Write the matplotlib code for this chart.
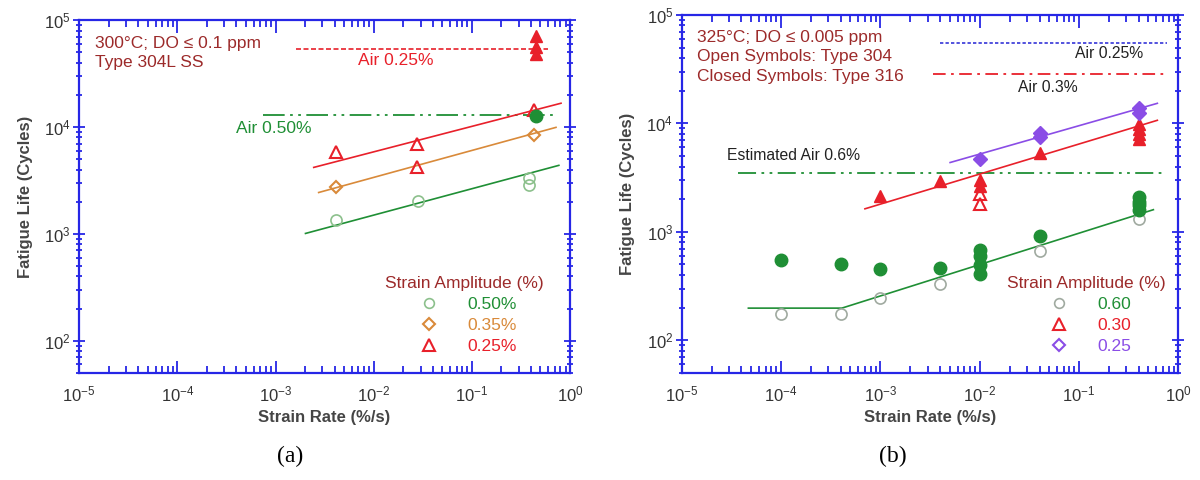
import matplotlib
matplotlib.use('Agg')
import matplotlib.pyplot as plt
from matplotlib.lines import Line2D
from matplotlib.ticker import LogLocator, NullFormatter

plt.rcParams['font.family'] = ['Liberation Sans', 'DejaVu Sans']
plt.rcParams['axes.unicode_minus'] = False

AXIS_BLUE = '#2626e6'
TEXT_RED = '#9c2a2a'
GREEN = '#1f8f35'
GREEN_OPEN_A = '#8cc08c'
GREEN_OPEN_B = '#a0aaa0'
RED = '#e8202a'
ORANGE = '#d98a3a'
PURPLE = '#8a4de6'
BLUE = '#3535d8'

# ---- panel (a): 300 C, Type 304L SS ----
a_tri_x = [0.0041, 0.0275, 0.0275, 0.43]
a_tri_y = [5800, 6900, 4200, 14300]
a_tri_fill_x = [0.45, 0.45, 0.45]
a_tri_fill_y = [70800, 55800, 48000]
a_dia_x = [0.0041, 0.43]
a_dia_y = [2720, 8350]
a_circ_x = [0.0041, 0.028, 0.38, 0.38]
a_circ_y = [1340, 2050, 3300, 2850]
a_circ_fill_x = [0.45]
a_circ_fill_y = [12600]

a_fit_red_x = [0.00245, 0.81]
a_fit_red_y = [4190, 16700]
a_fit_orange_x = [0.00275, 0.72]
a_fit_orange_y = [2440, 9930]
a_fit_green_x = [0.00202, 0.77]
a_fit_green_y = [1010, 4380]

a_air25_x = [0.0016, 0.6]
a_air25_y = [54300, 54300]
a_air50_x = [0.00075, 0.72]
a_air50_y = [12900, 12900]

# ---- panel (b): 325 C, Types 304 and 316 ----
b_dia_fill_x = [0.01, 0.04, 0.04, 0.4, 0.4]
b_dia_fill_y = [4740, 8070, 7500, 13800, 12400]
b_tri_fill_x = [0.001, 0.004, 0.01, 0.01, 0.04, 0.4, 0.4, 0.4, 0.4]
b_tri_fill_y = [2150, 2970, 3000, 2650, 5380, 9800, 8800, 7900, 7200]
b_tri_x = [0.01, 0.01]
b_tri_y = [2250, 1820]
b_circ_fill_x = [1e-4, 4e-4, 0.001, 0.004, 0.01, 0.01, 0.01, 0.01, 0.04,
                 0.4, 0.4, 0.4, 0.4]
b_circ_fill_y = [551, 506, 450, 464, 680, 600, 490, 410, 918,
                 2100, 1900, 1750, 1600]
b_circ_x = [1e-4, 4e-4, 0.001, 0.004, 0.04, 0.4]
b_circ_y = [174, 174, 245, 330, 667, 1320]

b_fit_purple_x = [0.00504, 0.614]
b_fit_purple_y = [4355, 15300]
b_fit_red_x = [0.0007, 0.614]
b_fit_red_y = [1630, 10670]
b_fit_green_x = [4.7e-5, 4.1e-4, 0.56]
b_fit_green_y = [198, 198, 1600]

b_air25_x = [0.004, 0.77]
b_air25_y = [54700, 54700]
b_air30_x = [0.0034, 0.77]
b_air30_y = [28400, 28400]
b_air60_x = [3.7e-5, 0.71]
b_air60_y = [3520, 3520]

FS = 12.5


def style_axes(ax):
    ax.set_xscale('log')
    ax.set_yscale('log')
    ax.set_xlim(1e-5, 1e0)
    ax.set_ylim(50, 1e5)
    for sp in ax.spines.values():
        sp.set_color(AXIS_BLUE)
        sp.set_linewidth(1.6)
    ax.xaxis.set_major_locator(LogLocator(base=10, numticks=10))
    ax.xaxis.set_minor_locator(LogLocator(base=10, subs=range(2, 10), numticks=20))
    ax.yaxis.set_major_locator(LogLocator(base=10, numticks=10))
    ax.yaxis.set_minor_locator(LogLocator(base=10, subs=range(2, 10), numticks=20))
    ax.xaxis.set_minor_formatter(NullFormatter())
    ax.yaxis.set_minor_formatter(NullFormatter())
    ax.tick_params(axis='x', which='both', direction='in', top=True, bottom=True,
                   color=AXIS_BLUE, width=1.3, labelsize=12, labelcolor='#333333', pad=8)
    ax.tick_params(axis='x', which='major', length=9)
    ax.tick_params(axis='x', which='minor', length=5)
    ax.tick_params(axis='y', which='both', direction='inout', left=True, right=True,
                   color=AXIS_BLUE, width=1.3, labelsize=12, labelcolor='#333333', pad=2)
    ax.tick_params(axis='y', which='major', length=8)
    ax.tick_params(axis='y', which='minor', length=5)
    ax.set_xlabel('Strain Rate (%/s)', fontsize=12, fontweight='bold',
                  color='#454545', labelpad=4)
    ax.set_ylabel('Fatigue Life (Cycles)', fontsize=12, fontweight='bold',
                  color='#454545', labelpad=8)


fig = plt.figure(figsize=(12, 4.8), dpi=100)
ax1 = fig.add_axes([0.066, 0.223, 0.409, 0.735])
ax2 = fig.add_axes([0.568, 0.223, 0.414, 0.746])
style_axes(ax1)
style_axes(ax2)

ms = 9

# panel (a)
ax1.plot(a_air25_x, a_air25_y, color=RED, lw=1.2, dashes=(3, 1.5))
ax1.plot(a_air50_x, a_air50_y, color=GREEN, lw=1.3, dashes=(12, 3, 1.5, 3, 1.5, 3))
ax1.plot(a_fit_red_x, a_fit_red_y, color=RED, lw=1.2)
ax1.plot(a_fit_orange_x, a_fit_orange_y, color=ORANGE, lw=1.2)
ax1.plot(a_fit_green_x, a_fit_green_y, color=GREEN, lw=1.2)
ax1.plot(a_circ_x, a_circ_y, 'o', ms=8, mfc='none', mec=GREEN_OPEN_A, mew=1.2)
ax1.plot(a_dia_x, a_dia_y, 'D', ms=6.5, mfc='none', mec=ORANGE, mew=1.5)
ax1.plot(a_tri_x, a_tri_y, '^', ms=ms, mfc='none', mec=RED, mew=1.5)
ax1.plot(a_tri_fill_x, a_tri_fill_y, '^', ms=ms, color=RED)
ax1.plot(a_circ_fill_x, a_circ_fill_y, 'o', ms=ms, color=GREEN)

ax1.text(0.032, 0.955, '300°C; DO ≤ 0.1 ppm\nType 304L SS', transform=ax1.transAxes,
         fontsize=FS, color=TEXT_RED, va='top', ha='left', linespacing=1.3)
ax1.text(0.0069, 42000, 'Air 0.25%', fontsize=FS, color=RED, va='center')
ax1.text(0.0004, 9700, 'Air 0.50%', fontsize=FS, color=GREEN, va='center')

handles_a = [
    Line2D([], [], ls='none', marker='o', ms=7, mfc='none', mec=GREEN_OPEN_A, mew=1.2),
    Line2D([], [], ls='none', marker='D', ms=6, mfc='none', mec=ORANGE, mew=1.5),
    Line2D([], [], ls='none', marker='^', ms=8, mfc='none', mec=RED, mew=1.5),
]
leg = ax1.legend(handles_a, ['0.50%', '0.35%', '0.25%'], title='Strain Amplitude (%)',
                 loc='lower center', bbox_to_anchor=(0.785, 0.01), frameon=False,
                 fontsize=FS, title_fontsize=FS, handletextpad=1.2, labelspacing=0.33,
                 labelcolor=[GREEN, ORANGE, RED])
leg.get_title().set_color(TEXT_RED)

# panel (b)
ax2.plot(b_air25_x, b_air25_y, color=BLUE, lw=1.2, dashes=(2, 1.3))
ax2.plot(b_air30_x, b_air30_y, color=RED, lw=1.3, dashes=(7, 3, 1.5, 3))
ax2.plot(b_air60_x, b_air60_y, color=GREEN, lw=1.3, dashes=(10, 3, 1.5, 3, 1.5, 3))
ax2.plot(b_fit_purple_x, b_fit_purple_y, color=PURPLE, lw=1.2)
ax2.plot(b_fit_red_x, b_fit_red_y, color=RED, lw=1.2)
ax2.plot(b_fit_green_x, b_fit_green_y, color=GREEN, lw=1.2)
ax2.plot(b_circ_x, b_circ_y, 'o', ms=8, mfc='none', mec=GREEN_OPEN_B, mew=1.2)
ax2.plot(b_tri_x, b_tri_y, '^', ms=ms, mfc='none', mec=RED, mew=1.5)
ax2.plot(b_circ_fill_x, b_circ_fill_y, 'o', ms=ms, color=GREEN)
ax2.plot(b_tri_fill_x, b_tri_fill_y, '^', ms=ms, color=RED)
ax2.plot(b_dia_fill_x, b_dia_fill_y, 'D', ms=7, color=PURPLE)

ax2.text(0.032, 0.957, '325°C; DO ≤ 0.005 ppm\nOpen Symbols: Type 304\nClosed Symbols: Type 316',
         transform=ax2.transAxes, fontsize=FS, color=TEXT_RED, va='top', ha='left',
         linespacing=1.35)
ax2.text(0.0916, 43600, 'Air 0.25%', fontsize=11.3, color='#222222', va='center')
ax2.text(0.0244, 21500, 'Air 0.3%', fontsize=11.3, color='#222222', va='center')
ax2.text(2.84e-5, 5060, 'Estimated Air 0.6%', fontsize=11.3, color='#222222', va='center')

handles_b = [
    Line2D([], [], ls='none', marker='o', ms=7, mfc='none', mec=GREEN_OPEN_B, mew=1.2),
    Line2D([], [], ls='none', marker='^', ms=8, mfc='none', mec=RED, mew=1.5),
    Line2D([], [], ls='none', marker='D', ms=6, mfc='none', mec=PURPLE, mew=1.5),
]
leg = ax2.legend(handles_b, ['0.60', '0.30', '0.25'], title='Strain Amplitude (%)',
                 loc='lower center', bbox_to_anchor=(0.815, 0.01), frameon=False,
                 fontsize=FS, title_fontsize=FS, handletextpad=1.2, labelspacing=0.33,
                 labelcolor=[GREEN, RED, PURPLE])
leg.get_title().set_color(TEXT_RED)

fig.text(0.242, 0.05, '(a)', fontsize=17, family=['Liberation Serif', 'DejaVu Serif'],
         ha='center', va='center')
fig.text(0.744, 0.05, '(b)', fontsize=17, family=['Liberation Serif', 'DejaVu Serif'],
         ha='center', va='center')

fig.savefig('out.png', dpi=100)
